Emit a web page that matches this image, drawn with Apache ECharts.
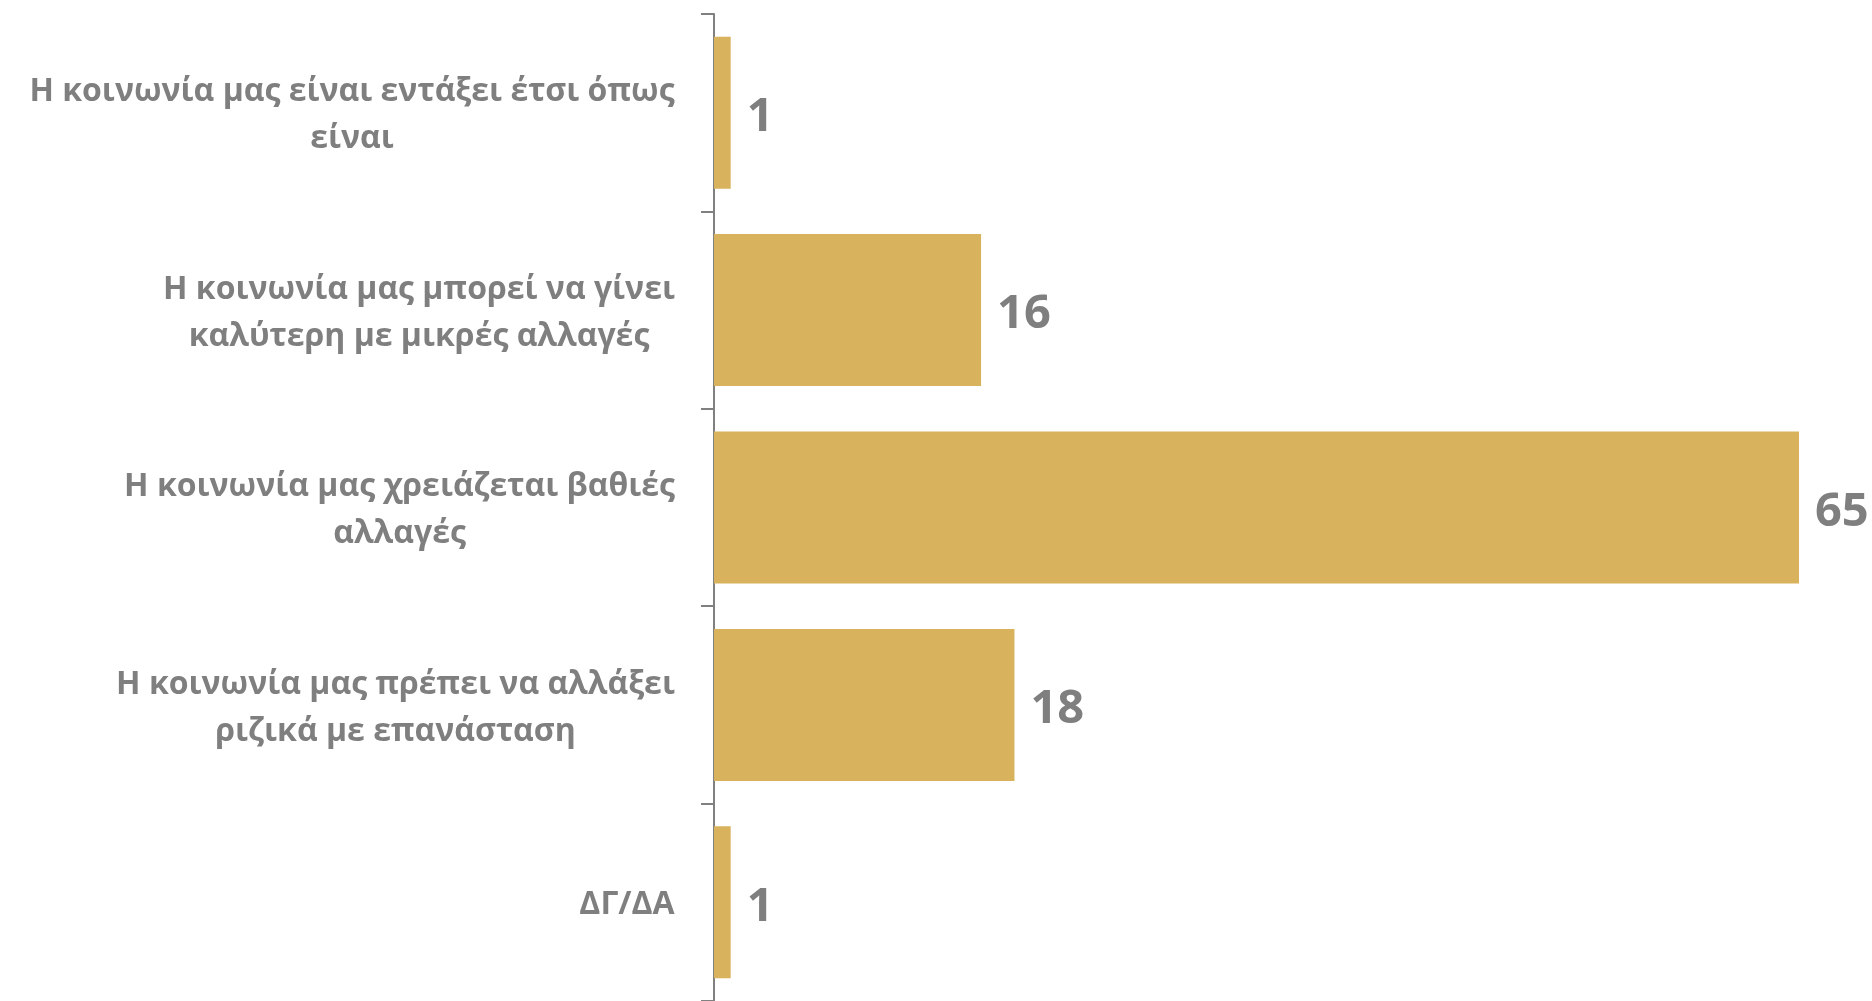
<!DOCTYPE html>
<html>
<head>
<meta charset="utf-8">
<script src="https://cdn.jsdelivr.net/npm/echarts@6/dist/echarts.min.js"></script>
<style>
html,body{margin:0;padding:0;background:#fff;}
#chart{width:1872px;height:1001px;}
</style>
</head>
<body>
<div id="chart"></div>
<script>
// Data
var categories = [
  "Η κοινωνία μας είναι εντάξει έτσι όπως\nείναι",
  "Η κοινωνία μας μπορεί να γίνει\nκαλύτερη με μικρές αλλαγές",
  "Η κοινωνία μας χρειάζεται βαθιές\nαλλαγές",
  "Η κοινωνία μας πρέπει να αλλάξει\nριζικά με επανάσταση",
  "ΔΓ/ΔΑ"
];
var values = [1, 16, 65, 18, 1];

var labelFont = 'bold 32px "Open Sans"';
var cv = document.createElement('canvas').getContext('2d');
cv.font = labelFont;
var rich = {};
categories.forEach(function (c, i) {
  var w = 0;
  c.split('\n').forEach(function (l) { w = Math.max(w, cv.measureText(l).width); });
  rich['l' + i] = { width: Math.ceil(w) + 2, align: 'center', fontFamily: 'Open Sans', fontWeight: 'bold', fontSize: 32, color: '#7f7f7f', lineHeight: 47 };
});

var chart = echarts.init(document.getElementById('chart'));
chart.setOption({
  animation: false,
  grid: { left: 714, right: 73, top: 14, bottom: -3, containLabel: false },
  xAxis: {
    type: 'value', min: 0, max: 65, show: false
  },
  yAxis: {
    type: 'category',
    inverse: true,
    data: categories,
    axisLine: { show: true, lineStyle: { color: '#808080', width: 2 } },
    axisTick: { show: true, length: 13, lineStyle: { color: '#808080', width: 2 } },
    axisLabel: {
      margin: 38,
      align: 'right',
      padding: [6, 0, 0, 0],
      formatter: function (v, i) {
        return v.split('\n').map(function (l) { return '{l' + i + '|' + l + '}'; }).join('\n');
      },
      rich: rich
    }
  },
  series: [{
    type: 'bar',
    data: values,
    barCategoryGap: '23%',
    itemStyle: { color: '#D9B25D' },
    label: {
      show: true, position: 'right', distance: 16, offset: [0, 5],
      fontFamily: 'Open Sans', fontWeight: 'bold', fontSize: 47, color: '#7f7f7f'
    }
  }]
});
</script>
</body>
</html>
